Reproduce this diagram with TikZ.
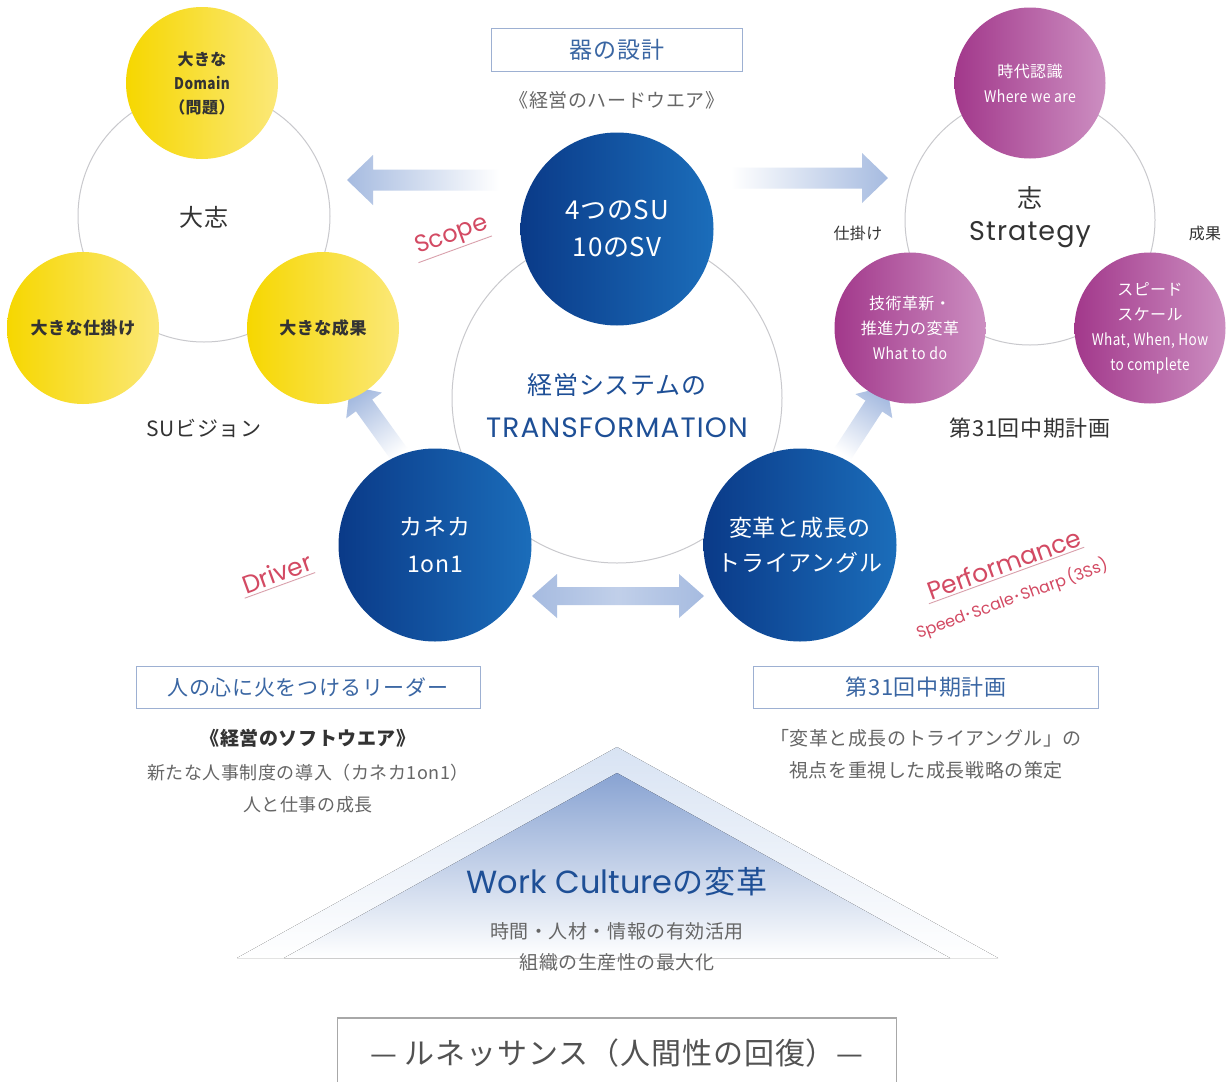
\documentclass[tikz,border=0pt]{standalone}
\usepackage{fontspec}
\setmainfont[LetterSpace=3]{Noto Sans CJK JP}
\newfontfamily\geo{Poppins}
\newfontfamily\geow[LetterSpace=4]{Poppins}
\newfontfamily\jpn{Noto Sans CJK JP}
\usetikzlibrary{calc}
\definecolor{yelL}{HTML}{F6D700}
\definecolor{yelR}{HTML}{FBE878}
\definecolor{purL}{HTML}{A2388B}
\definecolor{purR}{HTML}{CC8EC1}
\definecolor{bluL}{HTML}{0A3A88}
\definecolor{bluR}{HTML}{1B6DBA}
\definecolor{ringgray}{HTML}{C9C9CD}
\definecolor{txtdark}{HTML}{333333}
\definecolor{txtgray}{HTML}{666666}
\definecolor{tblue}{HTML}{1E4F96}
\definecolor{boxline}{HTML}{9DB0D2}
\definecolor{boxtxt}{HTML}{3A66A3}
\definecolor{redc}{HTML}{D34A63}
\definecolor{redline}{HTML}{D9A0AC}
\definecolor{arrowblue}{HTML}{A6BBE0}
\definecolor{triout}{HTML}{D8E3F3}
\definecolor{triin}{HTML}{88A3D2}
\definecolor{boxgray}{HTML}{A8A8A8}
\newcommand\fsz[2]{\fontsize{#1pt}{#2pt}\selectfont}
% block arrow: #1 style, #2 tail, #3 tip, #4 half shaft, #5 half head, #6 head length
\newcommand\blockarrow[6]{%
  \coordinate (ba-q) at ($(#3)!#6!(#2)$);
  \path[#1] ($(#2)!#4!90:(#3)$) -- ($(ba-q)!#4!90:(#3)$) -- ($(ba-q)!#5!90:(#3)$)
    -- (#3) -- ($(ba-q)!#5!-90:(#3)$) -- ($(ba-q)!#4!-90:(#3)$) -- ($(#2)!#4!-90:(#3)$) -- cycle;}
% double arrow: #1 style, #2 tip A, #3 tip B, #4 half shaft, #5 half head, #6 head length
\newcommand\dblarrow[6]{%
  \coordinate (da-a) at ($(#2)!#6!(#3)$);
  \coordinate (da-b) at ($(#3)!#6!(#2)$);
  \path[#1] (#2) -- ($(da-a)!#5!90:(#3)$) -- ($(da-a)!#4!90:(#3)$) -- ($(da-b)!#4!-90:(#2)$)
    -- ($(da-b)!#5!-90:(#2)$) -- (#3) -- ($(da-b)!#5!90:(#2)$) -- ($(da-b)!#4!90:(#2)$)
    -- ($(da-a)!#4!-90:(#3)$) -- ($(da-a)!#5!-90:(#3)$) -- cycle;}
\begin{document}
\begin{tikzpicture}[x=1pt,y=-1pt,
  every node/.style={inner sep=0pt, outer sep=0pt},
  ring/.style={draw=ringgray, line width=1pt},
  yball/.style={circle, minimum size=152pt, left color=yelL, right color=yelR, text=txtdark, align=center},
  pball/.style={circle, minimum size=151pt, left color=purL, right color=purR, text=white, align=center},
  bball/.style={circle, minimum size=193pt, left color=bluL, right color=bluR, text=white, align=center},
  bluebox/.style={draw=boxline, line width=0.9pt, minimum height=43pt, text=boxtxt},
  redlab/.style={text=redc, transform shape, font=\geo\fsz{24}{26}},
  uline/.style={draw=redline, line width=0.9pt},
  graytxt/.style={text=txtgray, align=center},
]
\useasboundingbox (0,0) rectangle (1227,1082);
\fill[white] (0,0) rectangle (1227,1082);

% ---------- bottom pyramid ----------
\fill[top color=triout, bottom color=white] (617,747) -- (998,958) -- (237,958) -- cycle;
\fill[top color=triin, bottom color=white] (617,773) -- (950,958) -- (284,958) -- cycle;

% ---------- rings ----------
\draw[ring] (204,216) circle[radius=126pt];
\draw[ring] (617,398) circle[radius=165pt];
\draw[ring] (1030,220) circle[radius=125pt];

% ---------- arrows ----------
\coordinate (la-tail) at (499,180);
\coordinate (la-tip) at (347,180);
\blockarrow{left color=arrowblue, right color=white}{la-tail}{la-tip}{10.5pt}{25pt}{26pt}
\coordinate (ra-tail) at (731,178);
\coordinate (ra-tip) at (888,178);
\blockarrow{left color=white, right color=arrowblue}{ra-tail}{ra-tip}{10.5pt}{25pt}{26pt}
\coordinate (dl-tail) at (402,458);
\coordinate (dl-tip) at (350,386);
\blockarrow{top color=arrowblue, bottom color=white, shading angle=36}{dl-tail}{dl-tip}{10pt}{22pt}{24pt}
\coordinate (dr-tail) at (840,458);
\coordinate (dr-tip) at (887,386);
\blockarrow{top color=arrowblue, bottom color=white, shading angle=-33}{dr-tail}{dr-tip}{10pt}{22pt}{24pt}
\coordinate (da-l) at (532,596);
\coordinate (da-r) at (704,596);
\dblarrow{left color=arrowblue, right color=arrowblue, middle color=arrowblue!70!white}{da-l}{da-r}{9pt}{22pt}{25pt}

% ---------- left: yellow group ----------
\node[yball, font=\bfseries\fsz{16}{24}] (ytop) at (202,83) {大きな\\\scalebox{0.85}[1]{Domain}\\（問題）};
\node[yball, font=\bfseries\fsz{17}{20}] (yleft) at (83,328) {大きな仕掛け};
\node[yball, font=\bfseries\fsz{17}{20}] (yright) at (323,328) {大きな成果};
\node[font=\fsz{24}{26}, text=txtdark] (taishi) at (204,217) {大志};
\node[font=\fsz{21}{24}, text=txtdark] (suv) at (204,428) {SUビジョン};

% ---------- center ----------
\node[bluebox, minimum width=251pt, font=\fsz{23}{24}] (utsuwa) at (617,50) {器の設計};
\node[font=\fsz{19}{22}, text=txtgray] (hard) at (617,100) {《経営のハードウエア》};
\node[bball, font=\fsz{26}{37}] (su) at (617,229) {4つのSU\\10のSV};
\node[bball, font=\fsz{23}{37}] (kaneka) at (435,545) {カネカ\\1on1};
\node[bball, font=\fsz{23}{35}] (henkaku) at (800,545) {変革と成長の\\トライアングル};
\node[font=\fsz{25}{43}, text=tblue, align=center] (trans) at (617,406) {経営システムの\\{\geow\fsz{28}{43}TRANSFORMATION}};

% ---------- right: purple group ----------
\node[pball, font=\fsz{16}{25}] (jidai) at (1030,83) {時代認識\\\scalebox{0.88}[1]{Where we are}};
\node[pball, font=\fsz{16}{25}] (gijutsu) at (910,328) {技術革新・\\推進力の変革\\\scalebox{0.88}[1]{What to do}};
\node[pball, font=\fsz{16}{25}] (speed) at (1150,328) {スピード\\スケール\\\scalebox{0.85}[1]{What, When, How}\\\scalebox{0.85}[1]{to complete}};
\node[font=\fsz{25}{33}, text=txtdark, align=center] (kokoro) at (1030,217) {志\\{\geow\fsz{27}{33}Strategy}};
\node[font=\fsz{16}{20}, text=txtdark] (shikake) at (858,233) {仕掛け};
\node[font=\fsz{16}{20}, text=txtdark] (seika) at (1205,233) {成果};
\node[font=\fsz{22}{24}, text=txtdark] (plan31a) at (1030,428) {第31回中期計画};

% ---------- red labels ----------
\begin{scope}[shift={(452,236)}, rotate=20]
  \node[redlab] (scope) at (0,0) {Scope};
  \draw[uline] ([xshift=-3pt,yshift=-2pt]scope.south west) -- ([yshift=-2pt]scope.south east);
\end{scope}
\begin{scope}[shift={(277,573)}, rotate=20]
  \node[redlab, font=\geo\fsz{25}{26}] (driver) at (0,0) {Driver};
  \draw[uline] ([xshift=-3pt,yshift=-3pt]driver.south west) -- ([yshift=-3pt]driver.south east);
\end{scope}
\begin{scope}[shift={(1004,564)}, rotate=20]
  \node[redlab, font=\geo\fsz{25}{26}] (perf) at (0,0) {Performance};
  \draw[uline] ([xshift=-3pt,yshift=-2pt]perf.south west) -- ([yshift=-2pt]perf.south east);
\end{scope}
\begin{scope}[shift={(1012,599)}, rotate=20]
  \node[redlab, font=\geo\fsz{16}{17}] (sss) at (0,0) {Speed{\jpn ･}Scale{\jpn ･}Sharp\,(3Ss)};
\end{scope}

% ---------- lower text blocks ----------
\node[bluebox, minimum width=344pt, minimum height=42pt, font=\fsz{21}{24}] (leader) at (308,687) {人の心に火をつけるリーダー};
\node[font=\bfseries\fsz{19}{22}, text=txtdark] (soft) at (308,738) {《経営のソフトウエア》};
\node[graytxt, font=\fsz{18}{32}] (softd) at (308,789) {新たな人事制度の導入（カネカ1on1）\\人と仕事の成長};
\node[bluebox, minimum width=345pt, minimum height=42pt, font=\fsz{22}{24}] (plan31b) at (926,687) {第31回中期計画};
\node[graytxt, font=\fsz{19}{32}] (pland) at (926,754) {「変革と成長のトライアングル」の\\視点を重視した成長戦略の策定};

\node[font=\fsz{31}{32}, text=tblue] (wc) at (617,882) {{\geo\fsz{32}{32}Work Culture}の変革};
\node[graytxt, font=\fsz{19}{31}] (wcd) at (617,947) {時間・人材・情報の有効活用\\組織の生産性の最大化};

\node[draw=boxgray, line width=1.2pt, minimum width=559pt, minimum height=82pt] (renbox) at (617,1059) {};
\node[font=\fsz{30}{32}, text=txtdark!85!white] (rentext) at (617,1053) {— ルネッサンス（人間性の回復）—};
\end{tikzpicture}
\end{document}
